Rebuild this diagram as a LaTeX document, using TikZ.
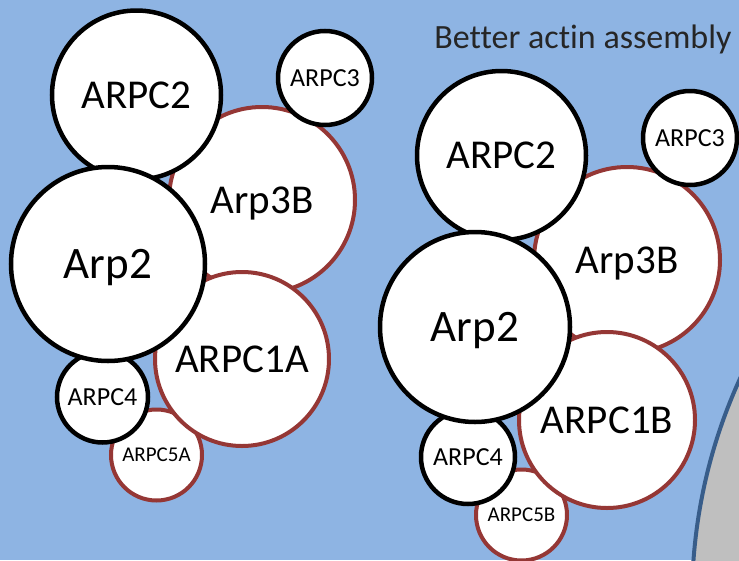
\documentclass[tikz,border=0pt]{standalone}
\usepackage{fontspec}
\setmainfont{Carlito}[Ligatures={NoCommon}]
\definecolor{sky}{HTML}{8EB4E3}
\definecolor{brick}{HTML}{953735}
\definecolor{navy}{HTML}{385D8A}
\definecolor{cellgrey}{HTML}{BFBFBF}
\definecolor{titlegrey}{HTML}{262626}
\begin{document}
\begin{tikzpicture}[x=1pt, y=-1pt,
  sub/.style={draw, circle, fill=white, line width=4.5pt, inner sep=0pt, minimum size=#1},
  arp/.style={sub=#1, draw=brick, line width=4pt},
  arptxt/.style={font=\fontsize{45}{45}\selectfont, text height=29pt, text depth=0pt},
  bigtxt/.style={font=\fontsize{41}{41}\selectfont, text height=26.4pt, text depth=0pt},
  midtxt/.style={font=\fontsize{26}{26}\selectfont, text height=16.7pt, text depth=0pt},
  smalltxt/.style={font=\fontsize{21}{21}\selectfont, text height=13.5pt, text depth=0pt}]
\useasboundingbox (0,0) rectangle (739,560);
\fill[sky] (0,0) rectangle (739,560);
\begin{scope}
\clip (0,0) rectangle (739,560);
\draw[navy, line width=4pt, fill=cellgrey] (1225,600) circle[radius=533pt];
\end{scope}
\node[text=titlegrey, font=\fontsize{34}{34}\selectfont, text height=21.5pt, text depth=0pt] (title) at (583,38) {Better actin assembly};
\node[arp=186, bigtxt] (a3) at (262,200) {Arp3B};
\node[arp=91, smalltxt] (c5) at (156.5,455) {ARPC5A};
\node[arp=174, bigtxt] (c1) at (242,359) {ARPC1A};
\node[sub=91, midtxt] (c4) at (102.5,397) {ARPC4};
\node[sub=169, bigtxt] (c2) at (136.5,95) {ARPC2};
\node[sub=94, midtxt] (c3) at (325,78) {ARPC3};
\node[sub=194, arptxt] (a2) at (108,264) {Arp2};
\node[arp=186, bigtxt] (a3b) at (627,260) {Arp3B};
\node[arp=91, smalltxt] (c5b) at (521.5,515) {ARPC5B};
\node[arp=176, bigtxt] (c1b) at (607,420) {ARPC1B};
\node[sub=94, midtxt] (c4b) at (468,457) {ARPC4};
\node[sub=169, bigtxt] (c2b) at (501.5,155.5) {ARPC2};
\node[sub=94, midtxt] (c3b) at (690,138) {ARPC3};
\node[sub=190, arptxt] (a2b) at (475,327) {Arp2};
\end{tikzpicture}
\end{document}
